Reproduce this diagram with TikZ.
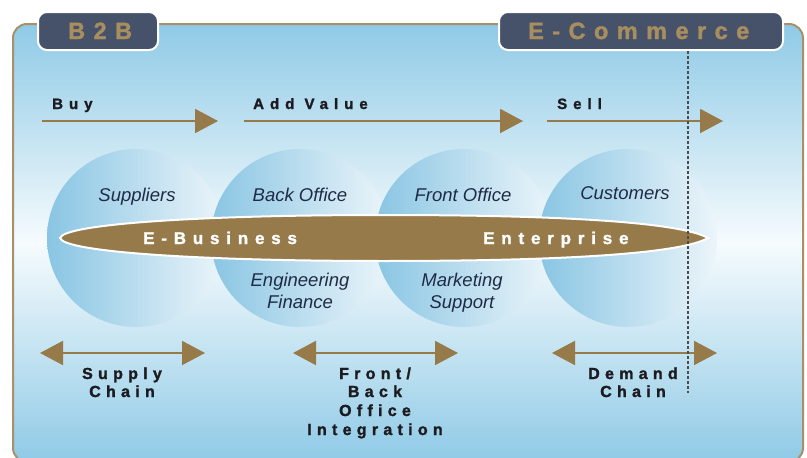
\documentclass[tikz,border=0pt]{standalone}
\usepackage{fontspec}
\setmainfont{Liberation Sans}
\newfontfamily\spacedfont[LetterSpace=40, BoldFeatures={FakeBold=1.6}]{Liberation Sans}
\usetikzlibrary{arrows.meta}
\definecolor{bgblue}{RGB}{143,202,230}
\definecolor{bgwhite}{RGB}{246,251,253}
\definecolor{cblue}{RGB}{137,197,227}
\definecolor{cwhite}{RGB}{236,245,250}
\definecolor{tanc}{RGB}{150,122,74}
\definecolor{bordertan}{RGB}{168,144,104}
\definecolor{tabfill}{RGB}{70,82,105}
\definecolor{tabtext}{RGB}{168,141,95}
\definecolor{navy}{RGB}{31,43,69}
\definecolor{inkc}{RGB}{28,28,32}
\begin{document}
\begin{tikzpicture}[x=1pt,y=-1pt,
  panel/.style={draw=bordertan, line width=2pt, rounded corners=14pt,
    top color=bgblue, bottom color=bgblue, middle color=bgwhite},
  tabbox/.style={draw=white, line width=2pt, fill=tabfill, rounded corners=9pt},
  tabtxt/.style={anchor=base west, inner sep=0pt, text=tabtext,
    font=\spacedfont\addfontfeature{LetterSpace=36}\bfseries\fontsize{23.5}{26}\selectfont},
  flowtxt/.style={anchor=base west, inner sep=0pt, text=inkc,
    font=\spacedfont\addfontfeature{LetterSpace=40}\bfseries\fontsize{15}{18}\selectfont},
  bottxt/.style={anchor=base, inner sep=0pt, text=inkc,
    font=\spacedfont\addfontfeature{LetterSpace=33}\bfseries\fontsize{16}{19}\selectfont},
  lenstxt/.style={anchor=base west, inner sep=0pt, text=white,
    font=\spacedfont\addfontfeature{LetterSpace=40}\bfseries\fontsize{17}{20}\selectfont},
  circtxt/.style={anchor=base, inner sep=0pt, text=navy,
    font=\itshape\fontsize{18.5}{22}\selectfont},
  circ/.style={circle, minimum size=178pt, inner sep=0pt, left color=cblue, right color=cwhite},
  flow/.style={draw=tanc, line width=2pt, -{Triangle[length=23pt,width=24pt]}},
  dflow/.style={draw=tanc, line width=2pt, {Triangle[length=23pt,width=24pt]}-{Triangle[length=23pt,width=24pt]}},
  lens/.style={fill=tanc, draw=white, line width=2pt},
  divider/.style={draw=black!70, line width=1.6pt, dash pattern=on 3pt off 2pt}
]
\useasboundingbox (0,0) rectangle (807,458);
\begin{scope}
\clip (0,0) rectangle (807,458);
\path[panel] (13,24) rectangle (803,462);
\end{scope}

% tabs
\path[tabbox] (38,12) rectangle (158,50);
\node[tabtxt] (b2b) at (68,39) {B2B};
\path[tabbox] (499,12) rectangle (783,50);
\node[tabtxt] (ecom) at (528,39) {E-Commerce};

% circles
\node[circ] (c1) at (136,238) {};
\node[circ] (c2) at (300,238) {};
\node[circ] (c3) at (464,238) {};
\node[circ] (c4) at (628,238) {};

% lens
\path[lens] (60,238) .. controls (64,224) and (200,215) .. (384,215)
  .. controls (560,215) and (680,222) .. (708,238)
  .. controls (680,254) and (560,261) .. (384,261)
  .. controls (200,261) and (64,252) .. (60,238) -- cycle;
\node[lenstxt] (ebiz) at (143,244) {E-Business};
\node[lenstxt] (ent) at (483,244) {Enterprise};

% circle labels
\node[circtxt] (sup) at (137,201) {Suppliers};
\node[circtxt] (bo) at (300,201) {Back Office};
\node[circtxt] (fo) at (463,201) {Front Office};
\node[circtxt] (cus) at (625,199) {Customers};
\node[circtxt] (eng) at (300,286) {Engineering};
\node[circtxt] (fin) at (300,308) {Finance};
\node[circtxt] (mkt) at (462,286) {Marketing};
\node[circtxt] (spt) at (462,308) {Support};

% top flows
\node[flowtxt] (buy) at (52,109) {Buy};
\node[flowtxt] (add) at (253,109) {Add Value};
\node[flowtxt] (sell) at (557,109) {Sell};
\coordinate (buyS) at (42,121);  \coordinate (buyE) at (218,121);
\coordinate (addS) at (244,121); \coordinate (addE) at (523,121);
\coordinate (selS) at (547,121); \coordinate (selE) at (723,121);
\draw[flow] (buyS) -- (buyE);
\draw[flow] (addS) -- (addE);
\draw[flow] (selS) -- (selE);

% bottom flows
\coordinate (s1) at (40,353);  \coordinate (e1) at (205,353);
\coordinate (s2) at (293,353); \coordinate (e2) at (458,353);
\coordinate (s3) at (552,353); \coordinate (e3) at (717,353);
\draw[dflow] (s1) -- (e1);
\draw[dflow] (s2) -- (e2);
\draw[dflow] (s3) -- (e3);

\node[bottxt] (sc1) at (122,379) {Supply};
\node[bottxt] (sc2) at (122,397) {Chain};
\node[bottxt] (fb1) at (375,379) {Front/};
\node[bottxt] (fb2) at (375,397) {Back};
\node[bottxt] (fb3) at (375,416) {Office};
\node[bottxt] (fb4) at (375,435) {Integration};
\node[bottxt] (dc1) at (633,379) {Demand};
\node[bottxt] (dc2) at (633,397) {Chain};

% divider
\coordinate (dtop) at (688,51);
\coordinate (dbot) at (688,393);
\draw[divider] (dtop) -- (dbot);
\end{tikzpicture}
\end{document}
